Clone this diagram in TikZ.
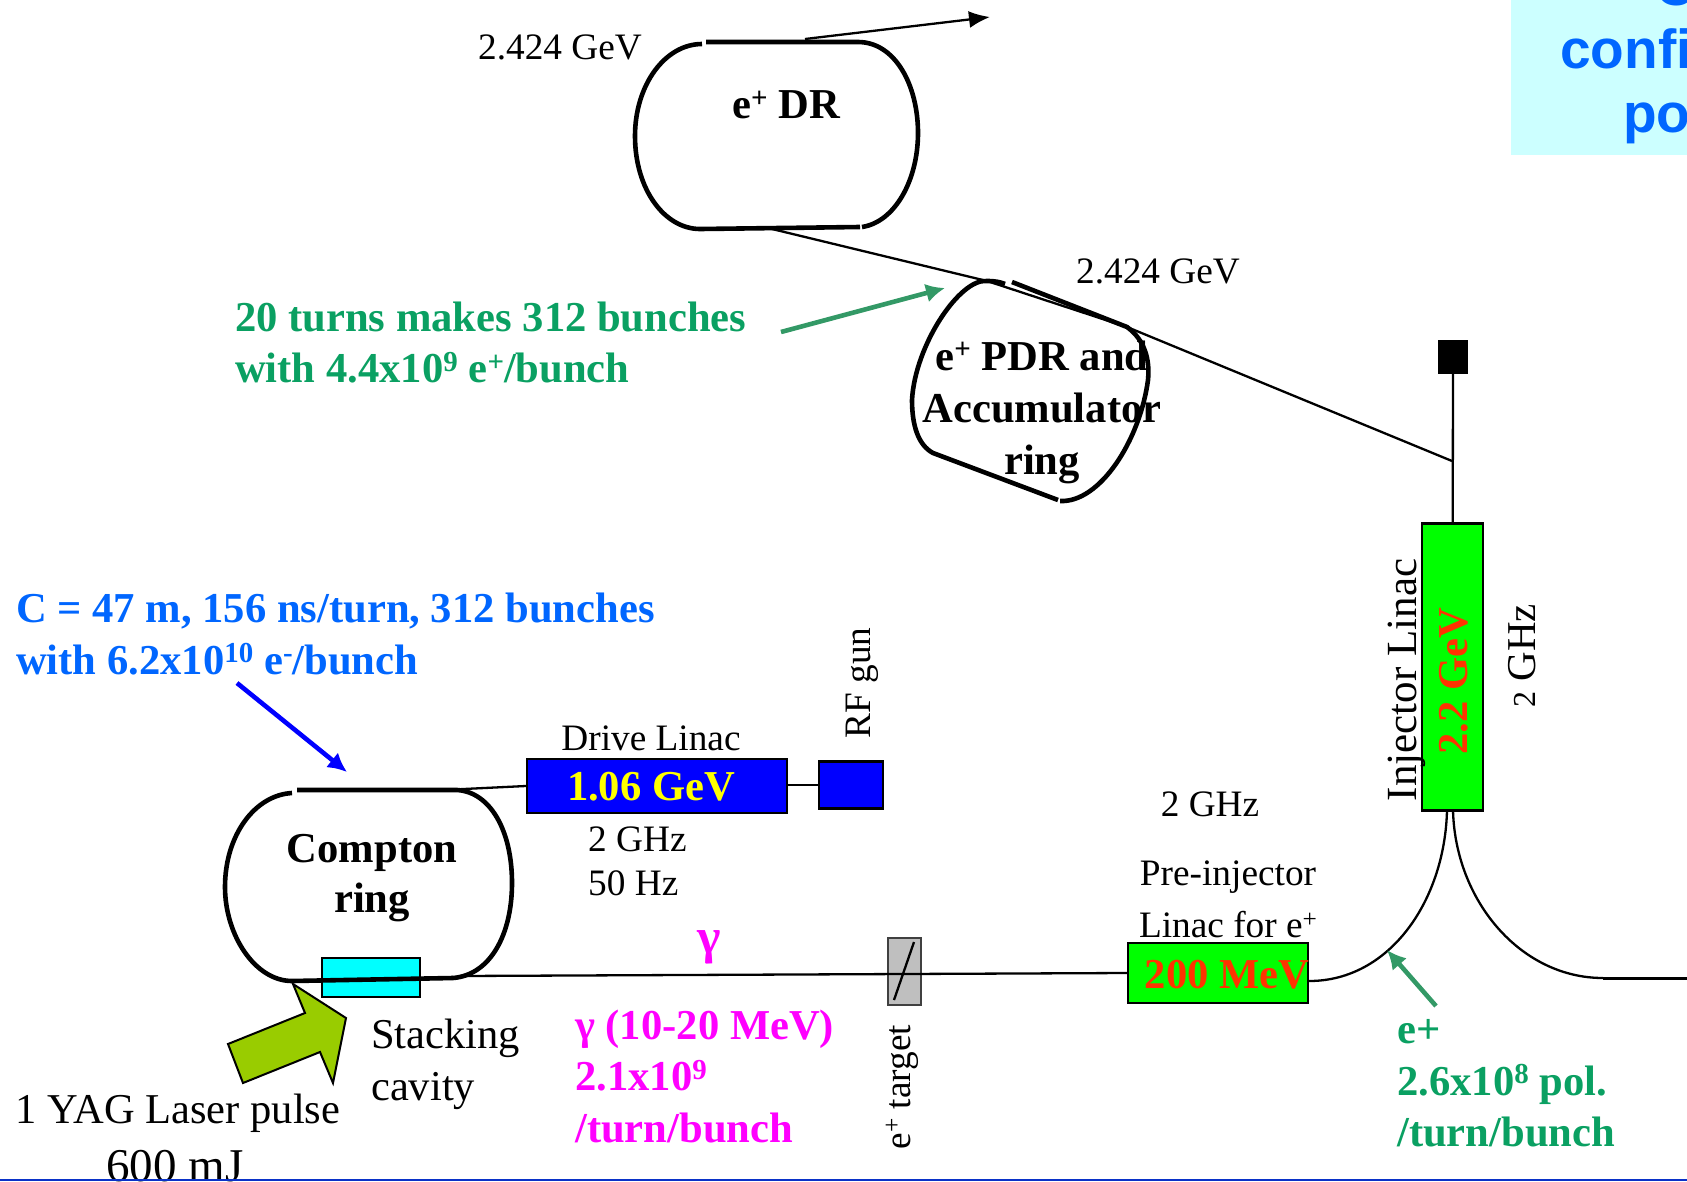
\documentclass[tikz,border=0pt]{standalone}
\usepackage{graphicx}
\usepackage{fontspec}
\setmainfont{Liberation Serif}
\newfontfamily\headfont{Liberation Sans}
\definecolor{seagreen}{RGB}{51,153,102}
\definecolor{leafgreen}{RGB}{10,160,98}
\definecolor{skyblue}{RGB}{0,102,255}
\definecolor{palecyan}{RGB}{204,255,255}
\definecolor{olivegreen}{RGB}{153,204,0}
\definecolor{redorange}{RGB}{255,51,0}
\definecolor{barblue}{RGB}{10,50,200}
\definecolor{purecyan}{RGB}{0,255,255}
\definecolor{puremagenta}{RGB}{255,0,255}
\definecolor{puregreen}{RGB}{0,255,0}
\definecolor{pureblue}{RGB}{0,0,255}
\definecolor{pureyellow}{RGB}{255,255,0}
\usetikzlibrary{arrows.meta}
\newcommand{\sz}[1]{\fontsize{#1}{#1}\selectfont}
\newcommand{\upmark}[1]{\raisebox{.27em}{\scalebox{.68}{#1}}}
\begin{document}
\begin{tikzpicture}[
    x=1pt, y=-1pt,
    ringline/.style={line width=4.6pt},
    beamline/.style={line width=2.3pt},
    linacbox/.style={draw=black, line width=2.4pt, inner sep=0pt},
    plain/.style={inner sep=0pt, font=\sz{37.3}},
    strong/.style={inner sep=0pt, font=\sz{42.6}\bfseries},
    note/.style={inner sep=0pt, align=left, anchor=west, font=\fontsize{42.6}{51.5}\selectfont\bfseries},
    pointer/.style={line width=4.6pt, -{Latex[length=19pt,width=19pt]}},
  ]
    \useasboundingbox (0,0) rectangle (1687,1181);
    \fill[palecyan] (1511,0) rectangle (1687,155);
    \node[inner sep=0pt, anchor=base west, text=skyblue, font=\sz{55}\headfont\bfseries] (cfg1) at (1655,5) {C};
    \node[inner sep=0pt, anchor=base west, text=skyblue, font=\sz{55}\headfont\bfseries] (cfg2) at (1560,68) {confi};
    \node[inner sep=0pt, anchor=base west, text=skyblue, font=\sz{55}\headfont\bfseries] (cfg3) at (1623,132) {po};

    \coordinate (drexit) at (805,39);
    \coordinate (drin) at (772,229);
    \coordinate (drtip) at (990,17);
    \coordinate (pdrbend) at (987,281);
    \coordinate (pdrout) at (1127,327);
    \coordinate (injtap) at (1452,461);
    \draw[ringline] (706,42) -- (858,42) .. controls (895,42) and (918,85) .. (918,133)
      .. controls (918,180) and (895,222) .. (862,227);
    \draw[ringline] (860,227) -- (700,229) .. controls (665,229) and (635,190) .. (635,136)
      .. controls (635,85) and (665,44) .. (702,44);
    \draw[beamline, -{Latex[length=21pt,width=17pt]}] (drexit) -- (drtip);
    \draw[beamline] (drin) -- (pdrbend) -- (pdrout) -- (injtap);
    \node[strong] (drlabel) at (786,105) {e\upmark{+} DR};
    \node[plain] (drgev) at (560,47.5) {2.424 GeV};

    \draw[ringline] (1012,282) -- (1127,327) .. controls (1145,340) and (1150,360) .. (1148,380)
      .. controls (1140,440) and (1100,503) .. (1060,501);
    \draw[ringline] (1058,500) -- (933,453) .. controls (918,445) and (912,425) .. (912,400)
      .. controls (915,345) and (960,278) .. (987,281) .. controls (995,281) and (1000,282) .. (1005,284);
    \node[strong, align=center, font=\fontsize{42.6}{52}\selectfont\bfseries] (pdrlabel) at (1042,412) {e\upmark{+} PDR and\\Accumulator\\ring};
    \node[plain] (pdrgev) at (1158,271) {2.424 GeV};
    \node[note, text=leafgreen] (turnsnote) at (235,342.5) {20 turns makes 312 bunches\\with 4.4x10\upmark{9} e\upmark{+}/bunch};
    \coordinate (turnsfrom) at (781,332);
    \coordinate (turnsto) at (945,288);
    \draw[pointer, seagreen] (turnsfrom) -- (turnsto);

    \node[linacbox, fill=puregreen, minimum width=61pt, minimum height=287pt] (injlinac) at (1452.5,667) {};
    \node[fill=black, minimum width=30pt, minimum height=34pt, inner sep=0pt] (stopper) at (1453,357) {};
    \draw[beamline] (stopper) -- (injlinac);
    \node[strong, rotate=90, text=redorange] (injgev) at (1454,681) {2.2 GeV};
    \node[plain, rotate=90, font=\sz{43}] (injname) at (1407,680) {Injector Linac};
    \node[plain, rotate=90, font=\sz{41}] (injfreq) at (1522,656) {{\sz{32}2} GHz};

    \node[linacbox, fill=pureblue, minimum width=260pt, minimum height=54pt] (drivelinac) at (657,786) {};
    \node[linacbox, fill=pureblue, minimum width=64pt, minimum height=47pt] (rfgun) at (851,785) {};
    \draw[beamline] (drivelinac.east |- rfgun) -- (rfgun);
    \node[strong, text=pureyellow] (drivegev) at (651,787) {1.06 GeV};
    \node[plain] (drivename) at (651,738) {Drive Linac};
    \node[plain, rotate=90] (rfname) at (862,683) {RF gun};
    \node[plain, align=left, anchor=west, font=\fontsize{37.3}{44}\selectfont] (drivefreq) at (588,861) {2 GHz\\50 Hz};

    \node[linacbox, fill=purecyan, minimum width=98pt, minimum height=39pt] (stackbox) at (371,977.5) {};
    \draw[ringline] (297,790) -- (457,790) .. controls (490,792) and (512,830) .. (512,883)
      .. controls (512,935) and (490,975) .. (453,978);
    \draw[ringline] (453,978) -- (292,981) .. controls (255,981) and (225,935) .. (225,887)
      .. controls (225,835) and (255,795) .. (292,793);
    \coordinate (compin) at (443,790);
    \draw[beamline] (compin) -- (drivelinac.west);
    \node[strong, align=center, font=\fontsize{42.6}{50}\selectfont\bfseries] (comptonlabel) at (372,878.5) {Compton\\ring};
    \node[note, text=skyblue] (ringnote) at (16,634) {C = 47 m, 156 ns/turn, 312 bunches\\with 6.2x10\upmark{10} e\upmark{-}/bunch};
    \coordinate (ringfrom) at (237,683);
    \coordinate (ringto) at (347,772);
    \draw[pointer, pureblue] (ringfrom) -- (ringto);

    \draw[fill=olivegreen, draw=black, line width=2pt] (293,984) -- (346,1018) -- (333,1083)
      -- (320,1052) -- (243,1083) -- (228,1044) -- (305,1013) -- cycle;
    \node[plain, align=left, anchor=west, font=\fontsize{42.5}{52}\selectfont] (stacklabel) at (371,1064.5) {Stacking\\cavity};
    \node[plain, font=\sz{42.5}] (laserlabel) at (178,1113) {1 YAG Laser pulse};
    \node[plain, font=\sz{47}, anchor=base] (laserenergy) at (175,1181) {600 mJ};

    \node[linacbox, fill=puregreen, minimum width=180pt, minimum height=60pt] (prelinac) at (1218,973) {};
    \node[strong, text=redorange] (pregev) at (1227,975) {200 MeV};
    \node[plain] (prename) at (1228,877) {Pre-injector};
    \node[plain] (prename2) at (1228,925) {Linac for e\upmark{+}};
    \node[plain] (prefreq) at (1210,804) {2 GHz};

    \node[draw=black!75, fill=black!25, line width=2.2pt, minimum width=33pt, minimum height=67pt, inner sep=0pt] (target) at (904.5,971.5) {};
    \coordinate (comptonout) at (460,976);
    \draw[beamline] (comptonout) -- (prelinac.west);
    \draw[beamline] (894,1000) -- (914,942);
    \node[plain, rotate=90] (targetname) at (902,1087) {e\upmark{+} target};

    \node[strong, text=puremagenta, font=\sz{50}\bfseries] (gammamark) at (709,947) {γ};
    \node[note, text=puremagenta] (gammanote) at (575,1076) {γ (10-20 MeV)\\2.1x10\upmark{9}\\/turn/bunch};

    \coordinate (spliteast) at (1603,978);
    \coordinate (rightend) at (1687,978);
    \draw[beamline] (prelinac.east |- 0,981) .. controls (1390,981) and (1445,900) .. (1447,810);
    \draw[beamline] (1453,810) .. controls (1455,900) and (1520,978) .. (spliteast);
    \draw[beamline, line width=3pt] (spliteast) -- (rightend);
    \coordinate (posfrom) at (1436,1006);
    \coordinate (posto) at (1387,950);
    \draw[pointer, seagreen] (posfrom) -- (posto);
    \node[note, text=leafgreen] (posnote) at (1397,1083.5) {e+\\2.6x10\upmark{8} pol.\\/turn/bunch};

    \fill[barblue] (0,1178.5) rectangle (1687,1181);
  \end{tikzpicture}
\end{document}
